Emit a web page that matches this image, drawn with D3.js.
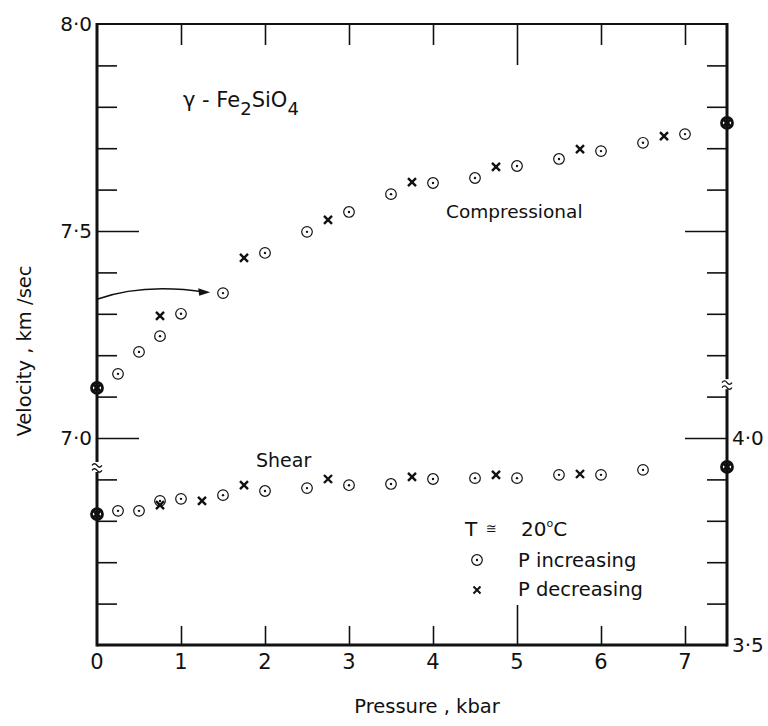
<!DOCTYPE html>
<html lang="en">
<head>
<meta charset="utf-8">
<title>Velocity vs pressure, γ-Fe2SiO4</title>
<script src="https://cdn.jsdelivr.net/npm/d3@7"></script>
<style>
  body { margin: 0; background: #fff; }
  text { font-family: "DejaVu Sans", sans-serif; fill: #111; }
  .domain { display: none; }
</style>
</head>
<body>
<script>
// pressure (kbar) and velocity (km/sec)
var compIncP = [0.25, 0.5, 0.75, 1, 1.5, 2, 2.5, 3, 3.5, 4, 4.5, 5, 5.5, 6, 6.5, 7];
var compIncV = [7.155, 7.208, 7.246, 7.300, 7.350, 7.447, 7.498, 7.546, 7.589, 7.616, 7.628, 7.657, 7.674, 7.693, 7.713, 7.734];
var compDecP = [0.75, 1.75, 2.75, 3.75, 4.75, 5.75, 6.75];
var compDecV = [7.295, 7.435, 7.527, 7.618, 7.655, 7.698, 7.729];
var compBothP = [0, 7.5];
var compBothV = [7.121, 7.761];

// shear velocities use the right-hand scale
var shearIncP = [0.25, 0.5, 0.75, 1, 1.5, 2, 2.5, 3, 3.5, 4, 4.5, 5, 5.5, 6, 6.5];
var shearIncV = [3.824, 3.824, 3.848, 3.853, 3.862, 3.872, 3.879, 3.886, 3.889, 3.901, 3.903, 3.903, 3.911, 3.911, 3.923];
var shearDecP = [0.75, 1.25, 1.75, 2.75, 3.75, 4.75, 5.75];
var shearDecV = [3.838, 3.848, 3.886, 3.901, 3.906, 3.911, 3.913];
var shearBothP = [0, 7.5];
var shearBothV = [3.816, 3.930];

var xTicks = [1, 2, 3, 4, 5, 6, 7];
var xLabels = [0, 1, 2, 3, 4, 5, 6, 7];
var yMinor = [6.6, 6.7, 6.8, 6.9, 7.1, 7.2, 7.3, 7.4, 7.6, 7.7, 7.8, 7.9];
var yMajor = [7.0, 7.5];
var yLeftLabels = [7.0, 7.5, 8.0];
var yRightLabels = [3.5, 4.0];

var w = 768, h = 726;
var x = d3.scaleLinear().domain([0, 7.5]).range([97, 727]);
var yL = d3.scaleLinear().domain([6.5, 8.0]).range([645, 24]);
var yR = d3.scaleLinear().domain([3.5, 5.0]).range([645, 24]);

var fmt = function(d) { return d.toFixed(1).replace(".", "·"); };

var svg = d3.select("body").append("svg").attr("width", w).attr("height", h);

// inward ticks
function tickAxis(axis, tf, size) {
  svg.append("g").attr("transform", tf)
     .call(axis.tickSize(size).tickFormat(""))
     .selectAll("line").attr("stroke", "#111").attr("stroke-width", 1.6);
}
tickAxis(d3.axisLeft(yL).tickValues(yMinor), "translate(97,0)", -20);
tickAxis(d3.axisLeft(yL).tickValues(yMajor), "translate(97,0)", -42);
tickAxis(d3.axisRight(yL).tickValues(yMinor), "translate(727,0)", -20);
tickAxis(d3.axisRight(yL).tickValues(yMajor), "translate(727,0)", -42);
tickAxis(d3.axisTop(x).tickValues(xTicks.filter(function(d){ return d != 5; })), "translate(0,24)", -21);
tickAxis(d3.axisTop(x).tickValues([5]), "translate(0,24)", -41);
tickAxis(d3.axisBottom(x).tickValues(xTicks.filter(function(d){ return d != 5; })), "translate(0,645)", -19);
tickAxis(d3.axisBottom(x).tickValues([5]), "translate(0,645)", -40);

// frame
svg.append("line").attr("x1", x(0)).attr("x2", x(7.5)).attr("y1", yL(8)).attr("y2", yL(8))
   .attr("stroke", "#111").attr("stroke-width", 2);
svg.append("line").attr("x1", x(0)).attr("x2", x(7.5)).attr("y1", yL(6.5)).attr("y2", yL(6.5))
   .attr("stroke", "#111").attr("stroke-width", 3);
svg.append("line").attr("x1", x(0)).attr("x2", x(0)).attr("y1", yL(8) - 1).attr("y2", yL(6.5) + 1.5)
   .attr("stroke", "#111").attr("stroke-width", 3);
svg.append("line").attr("x1", x(7.5)).attr("x2", x(7.5)).attr("y1", yL(8) - 1).attr("y2", yL(6.5) + 1.5)
   .attr("stroke", "#111").attr("stroke-width", 3);

// axis breaks
function brk(px, py) {
  var g = svg.append("g").attr("transform", "translate(" + px + "," + py + ")");
  g.append("rect").attr("x", -3).attr("y", -5).attr("width", 6).attr("height", 10).attr("fill", "#fff");
  [-2.5, 2.5].forEach(function(o) {
    g.append("path").attr("d", "M-5," + (o + 1) + " q2.5,-3.5 5,0 t5,0")
     .attr("fill", "none").attr("stroke", "#111").attr("stroke-width", 1.3);
  });
}
brk(x(0), yL(6.93));
brk(x(7.5), yR(4.13));

// tick labels
svg.selectAll(".yl").data(yLeftLabels).enter().append("text")
   .attr("x", 92).attr("y", function(d) { return yL(d); }).attr("dy", "0.36em")
   .attr("text-anchor", "end").attr("font-size", 20).text(fmt);
svg.selectAll(".yr").data(yRightLabels).enter().append("text")
   .attr("x", 732).attr("y", function(d) { return yR(d); }).attr("dy", "0.36em")
   .attr("text-anchor", "start").attr("font-size", 20).text(fmt);
svg.selectAll(".xl").data(xLabels).enter().append("text")
   .attr("x", function(d) { return x(d); }).attr("y", 669)
   .attr("text-anchor", "middle").attr("font-size", 21).text(function(d) { return d; });

// axis titles
svg.append("text").attr("x", 427).attr("y", 713).attr("text-anchor", "middle")
   .attr("font-size", 19.5).text("Pressure , kbar");
svg.append("text").attr("transform", "translate(31,351) rotate(-90)").attr("text-anchor", "middle")
   .attr("font-size", 19.5).text("Velocity , km /sec");

// annotations
var t = svg.append("text").attr("x", 183).attr("y", 107).attr("font-size", 21);
t.append("tspan").text("γ - Fe");
t.append("tspan").attr("dy", 8).attr("font-size", 18).text("2");
t.append("tspan").attr("dy", -8).text("SiO");
t.append("tspan").attr("dy", 8).attr("font-size", 18).text("4");
svg.append("text").attr("x", 446).attr("y", 218).attr("font-size", 18.5).text("Compressional");
svg.append("text").attr("x", 256).attr("y", 467).attr("font-size", 19).text("Shear");

// arrow from left axis to the 1.5 kbar point
var arrowPts = [[0, 7.335], [0.55, 7.375], [1.3, 7.352]];
svg.append("path")
   .attr("d", "M" + x(arrowPts[0][0]) + "," + yL(arrowPts[0][1]) +
              " Q" + x(arrowPts[1][0]) + "," + yL(arrowPts[1][1]) +
              " " + x(arrowPts[2][0]) + "," + yL(arrowPts[2][1]))
   .attr("fill", "none").attr("stroke", "#111").attr("stroke-width", 1.6);
var tx = x(arrowPts[2][0]), ty = yL(arrowPts[2][1]);
svg.append("path").attr("d", "M" + (tx + 4) + "," + ty + " L" + (tx - 8) + "," + (ty - 4) + " L" + (tx - 7) + "," + (ty + 3.5) + "Z")
   .attr("fill", "#111");

// markers
function circles(ps, vs, y, r, sw) {
  var g = svg.append("g");
  var d = d3.zip(ps, vs);
  g.selectAll("circle.o").data(d).enter().append("circle")
   .attr("cx", function(p) { return x(p[0]); }).attr("cy", function(p) { return y(p[1]); })
   .attr("r", r).attr("fill", "none").attr("stroke", "#111").attr("stroke-width", sw);
  g.selectAll("circle.d").data(d).enter().append("circle")
   .attr("cx", function(p) { return x(p[0]); }).attr("cy", function(p) { return y(p[1]); })
   .attr("r", 1.2).attr("fill", "#111");
}
function crosses(ps, vs, y, s, sw) {
  svg.append("g").selectAll("path").data(d3.zip(ps, vs)).enter().append("path")
   .attr("d", function(p) {
     var cx = x(p[0]), cy = y(p[1]);
     return "M" + (cx - s) + "," + (cy - s) + "L" + (cx + s) + "," + (cy + s) +
            "M" + (cx - s) + "," + (cy + s) + "L" + (cx + s) + "," + (cy - s);
   })
   .attr("stroke", "#111").attr("stroke-width", sw).attr("fill", "none");
}
circles(compIncP, compIncV, yL, 5.3, 1.2);
crosses(compDecP, compDecV, yL, 4, 2.4);
circles(compBothP, compBothV, yL, 5.5, 2.8);
crosses(compBothP, compBothV, yL, 4, 3.2);
circles(shearIncP, shearIncV, yR, 5.3, 1.2);
crosses(shearDecP, shearDecV, yR, 4, 2.4);
circles(shearBothP, shearBothV, yR, 5.5, 2.8);
crosses(shearBothP, shearBothV, yR, 4, 3.2);

// legend
svg.append("text").attr("x", 465).attr("y", 536).attr("font-size", 20).text("T");
svg.append("text").attr("x", 486).attr("y", 533).attr("font-size", 13).text("≅");
var tt = svg.append("text").attr("x", 521).attr("y", 536).attr("font-size", 20);
tt.append("tspan").text("20");
tt.append("tspan").attr("dy", -9).attr("font-size", 11).text("o");
tt.append("tspan").attr("dy", 9).text("C");
var legP = svg.append("g").attr("transform", "translate(477,560)");
legP.append("circle").attr("r", 5.3).attr("fill", "none").attr("stroke", "#111").attr("stroke-width", 1.2);
legP.append("circle").attr("r", 1.2).attr("fill", "#111");
svg.append("path").attr("d", "M473.5,586.5L480.5,593.5M473.5,593.5L480.5,586.5")
   .attr("stroke", "#111").attr("stroke-width", 2);
svg.append("text").attr("x", 518).attr("y", 567).attr("font-size", 19.5).text("P  increasing");
svg.append("text").attr("x", 518).attr("y", 596).attr("font-size", 19.5).text("P  decreasing");
</script>
</body>
</html>
